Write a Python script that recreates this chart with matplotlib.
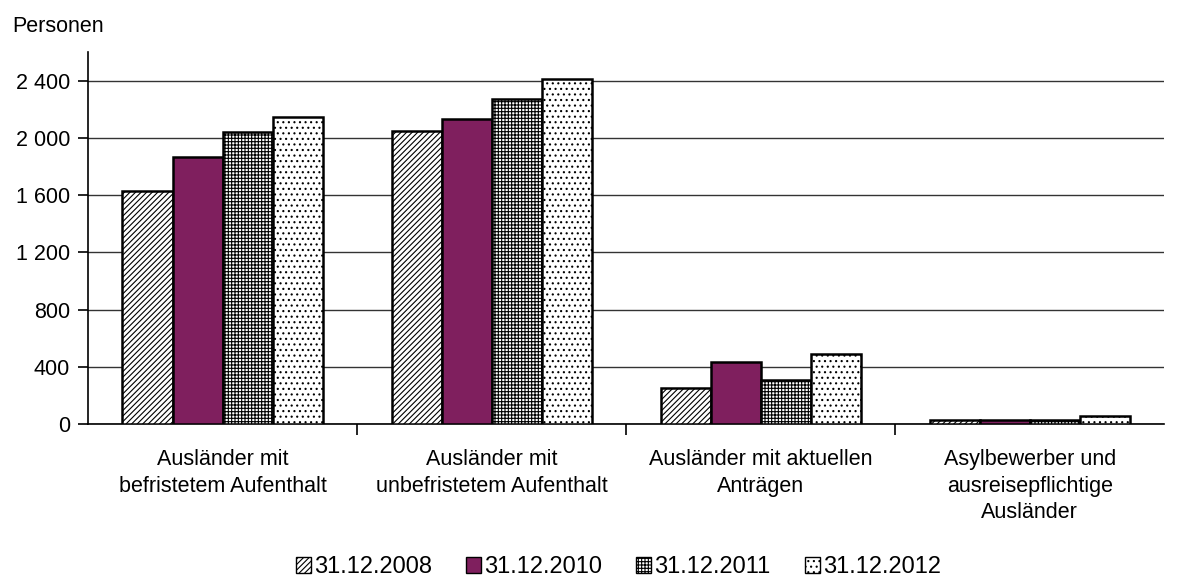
import matplotlib
matplotlib.use("Agg")
import matplotlib.pyplot as plt
import numpy as np

plt.rcParams['font.family'] = ['Liberation Sans', 'DejaVu Sans']
plt.rcParams['hatch.linewidth'] = 0.8

categories = ["Ausländer mit\nbefristetem Aufenthalt",
              "Ausländer mit\nunbefristetem Aufenthalt",
              "Ausländer mit aktuellen\nAnträgen",
              "Asylbewerber und\nausreisepflichtige\nAusländer"]
series_labels = ["31.12.2008", "31.12.2010", "31.12.2011", "31.12.2012"]
v2008 = [1630, 2050, 250, 28]
v2010 = [1870, 2135, 430, 26]
v2011 = [2040, 2275, 305, 25]
v2012 = [2150, 2415, 490, 56]
yticks = [0, 400, 800, 1200, 1600, 2000, 2400]

series = [v2008, v2010, v2011, v2012]
styles = [dict(facecolor="white", hatch="//////"),
          dict(facecolor="#7f1f5e", hatch=None),
          dict(facecolor="white", hatch="+++++"),
          dict(facecolor="white", hatch="...")]

fig = plt.figure(figsize=(11.8, 5.8), dpi=100)
ax = fig.add_axes([0.0746, 0.269, 0.912, 0.641])

x = np.arange(len(categories))
w = 0.186
for i, (vals, st) in enumerate(zip(series, styles)):
    ax.bar(x + (i - 1.5) * w, vals, w, edgecolor="black", linewidth=1.8,
           label=series_labels[i], zorder=3, **st)

ax.set_xlim(-0.5, 3.5)
ax.set_ylim(0, 2600)
ax.set_yticks(yticks)
ax.set_yticklabels([f"{t:,}".replace(",", " ") for t in yticks], fontsize=15.5)
ax.yaxis.grid(True, color="#333333", linewidth=1.0, zorder=0)
ax.set_axisbelow(True)

ax.set_xticks(x)
ax.set_xticklabels(categories, fontsize=15.5, linespacing=1.35)
ax.tick_params(axis="x", length=0, pad=18)
ax.set_xticks([0.5, 1.5, 2.5], minor=True)
ax.tick_params(axis="x", which="minor", length=8, width=1.2, direction="out")
ax.tick_params(axis="y", length=7, width=1.2, direction="out", pad=6)

for s in ["top", "right"]:
    ax.spines[s].set_visible(False)
ax.spines["left"].set_linewidth(1.2)
ax.spines["bottom"].set_linewidth(1.2)

fig.text(0.010, 0.955, "Personen", fontsize=15.5, ha="left", va="center")

leg = fig.legend(loc="center", bbox_to_anchor=(0.524, 0.022), ncol=4, frameon=False,
                 fontsize=17, handlelength=0.64, handleheight=0.64,
                 handletextpad=0.12, columnspacing=1.45)
for p in leg.get_patches():
    p.set_linewidth(1.0)

fig.savefig("out.png", dpi=100)
